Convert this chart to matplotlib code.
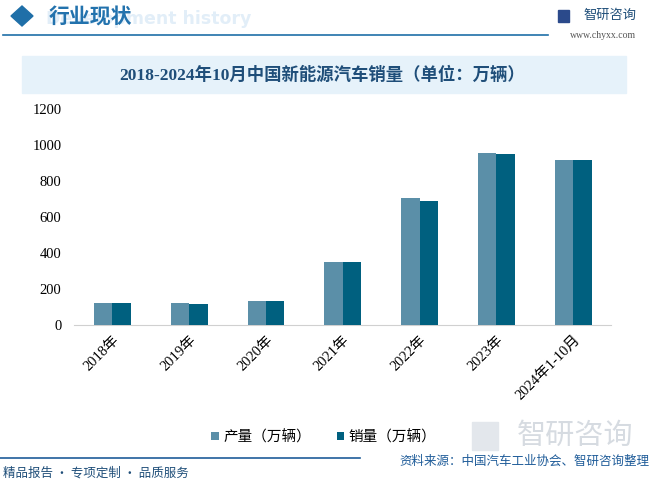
import numpy as np
import matplotlib.pyplot as plt
from matplotlib.patches import Rectangle, Polygon

plt.rcParams['font.family'] = ['Liberation Serif', 'Noto Sans CJK SC', 'DejaVu Sans']

years = ['2018年', '2019年', '2020年', '2021年', '2022年', '2023年', '2024年1-10月']
production = [122, 122, 136, 350, 706, 955, 917]
sales = [122, 117, 136, 350, 689, 950, 917]
yticks = [0, 200, 400, 600, 800, 1000, 1200]

c_prod = '#5b8fa8'
c_sales = '#00607f'
dark = '#1f4e79'
W, H = 652, 488

def fx(px):
    return px / W

def fy(py):
    return 1 - py / H

fig = plt.figure(figsize=(6.52, 4.88), dpi=100)

# header
fig.text(fx(46), fy(19), 'Development history', fontsize=12.5, color='#e2eef8',
         fontweight='bold', family=['DejaVu Sans'], va='center', zorder=0)
fig.patches.append(Polygon([[fx(11), fy(16)], [fx(22), fy(6)], [fx(33), fy(16)], [fx(22), fy(26)]],
                           closed=True, color='#1f6fa8', transform=fig.transFigure))
fig.text(fx(49), fy(17), '行业现状', fontsize=15, color='#2272ad', fontweight='bold',
         family=['Noto Sans CJK SC'], va='center', zorder=2)
fig.add_artist(plt.Line2D([fx(3), fx(548)], [fy(35), fy(35)], color='#1f6fa8', lw=1.2))
fig.patches.append(Rectangle((fx(558), fy(22)), fx(11), 12 / H, color='#2b4a8b',
                             transform=fig.transFigure))
fig.text(fx(583), fy(15), '智研咨询', fontsize=9.5, color='#1f4e79',
         family=['Noto Sans CJK SC'], va='center')
fig.text(fx(636), fy(35), 'www.chyxx.com', fontsize=7, color='#555555', ha='right', va='center')

# title band
fig.patches.append(Rectangle((fx(22), fy(93)), fx(604), 37 / H, color='#e6f2fa',
                             transform=fig.transFigure, zorder=0))
fig.text(fx(322), fy(75), '2018-2024年10月中国新能源汽车销量（单位：万辆）', fontsize=12.5,
         color=dark, fontweight='bold', ha='center', va='center')

ax = fig.add_axes([fx(74), fy(325), fx(537.5), 216 / H])
x = np.arange(len(years))
w = 0.24
ax.bar(x - w/2, production, w, color=c_prod, label='产量（万辆）', zorder=3)
ax.bar(x + w/2, sales, w, color=c_sales, label='销量（万辆）', zorder=3)
ax.set_xlim(-0.5, len(years) - 0.5)
ax.set_ylim(0, 1200)
ax.set_yticks(yticks)
ax.set_yticklabels([str(v) for v in yticks], fontsize=10.5)
ax.set_xticks(x)
ax.set_xticklabels(years, rotation=45, ha='right', rotation_mode='anchor', fontsize=10.5)
for s in ['top', 'right', 'left']:
    ax.spines[s].set_visible(False)
ax.spines['bottom'].set_color('#d0d0d0')
ax.tick_params(axis='y', length=0, pad=9)
ax.tick_params(axis='x', length=0, pad=6)
ax.patch.set_alpha(0)

leg = fig.legend(loc='center', bbox_to_anchor=(fx(324), fy(437)), ncol=2, frameon=False,
                 handlelength=0.5, handleheight=0.5, handletextpad=0.3,
                 columnspacing=1.8, prop={'family': ['Noto Sans CJK SC'], 'size': 10.5})

# footer
fig.patches.append(Rectangle((fx(472), fy(450)), fx(26), 28 / H, color='#e3e7ec',
                             transform=fig.transFigure, zorder=0))
fig.text(fx(575), fy(436), '智研咨询', fontsize=21, color='#d6dbe1',
         family=['Noto Sans CJK SC'], ha='center', va='center', zorder=0)
fig.add_artist(plt.Line2D([0, fx(360)], [fy(458), fy(458)], color='#1f5c99', lw=1.2))
fig.text(fx(3), fy(473), '精品报告 · 专项定制 · 品质服务', fontsize=9, color='#1f4e79',
         family=['Noto Sans CJK SC'], va='center')
fig.text(fx(649), fy(461), '资料来源：中国汽车工业协会、智研咨询整理', fontsize=9, color='#1f5c99',
         family=['Noto Sans CJK SC'], ha='right', va='center')

fig.savefig('out.png', dpi=100)
